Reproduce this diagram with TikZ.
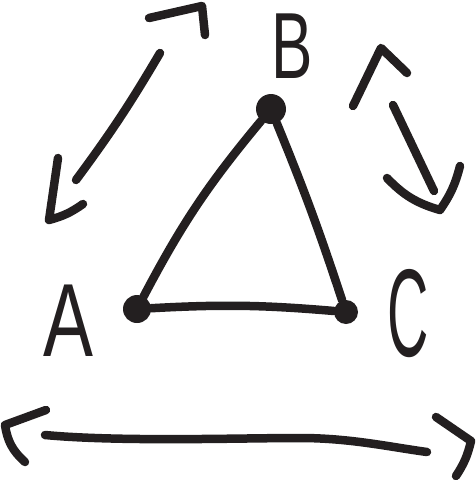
\documentclass[tikz,border=0pt]{standalone}
\usepackage{fontspec}
\setmainfont{Liberation Sans}
\definecolor{ink}{HTML}{231F20}
\tikzset{
  pen/.style={draw=ink, line width=8.5pt, line cap=round, line join=round},
  vert/.style={circle, fill=ink, inner sep=0pt},
  letter/.style={text=ink, font=\fontsize{104}{104}\selectfont, inner sep=0pt}
}
\begin{document}
\begin{tikzpicture}[x=1pt,y=-1pt]
\useasboundingbox (0,0) rectangle (476,480);
% vertices
\node[vert, minimum size=28pt] (A) at (137,309) {};
\node[vert, minimum size=30pt] (B) at (271,109) {};
\node[vert, minimum size=24pt] (C) at (346,312) {};
% triangle
\draw[pen] (A) to[bend left=6] (B);
\draw[pen] (B) to[bend left=2] (C);
\draw[pen] (A) to[bend left=4] (C);
% labels
\node[letter] (LA) at (68,321) {\scalebox{0.72}[1]{A}};
\node[letter, font=\fontsize{94}{94}\selectfont] (LB) at (292,46) {\scalebox{0.66}[1]{B}};
\node[letter] (LC) at (408,314) {\scalebox{0.55}[1.2]{C}};
% top-left double arrow
\coordinate (t1) at (160,53);
\coordinate (t2) at (76,180);
\coordinate (h1a) at (149,18);
\coordinate (h1b) at (202,6);
\coordinate (h1c) at (205,35);
\coordinate (h2a) at (58,158);
\coordinate (h2b) at (49,220);
\coordinate (h2c) at (83,204);
\draw[pen] (t1) to[bend left=3] (t2);
\draw[pen] (h1a) -- (h1b) -- (h1c);
\draw[pen] (h2a) -- (h2b) to[bend right=10] (h2c);
% right double arrow
\coordinate (r1) at (393,105);
\coordinate (r2) at (434,191);
\coordinate (k1a) at (353,106);
\coordinate (k1b) at (381,48);
\coordinate (k1c) at (407,73);
\coordinate (k2a) at (387,178);
\coordinate (k2b) at (440,210);
\coordinate (k2c) at (460,166);
\draw[pen] (r1) -- (r2);
\draw[pen] (k1a) -- (k1b) -- (k1c);
\draw[pen] (k2a) to[bend right=15] (k2b) to[bend right=10] (k2c);
% bottom double arrow
\coordinate (b1) at (45,435);
\coordinate (b2) at (427,452);
\coordinate (bm) at (300,438);
\coordinate (g1a) at (46,410);
\coordinate (g1b) at (5,425);
\coordinate (g1c) at (25,462);
\coordinate (g2a) at (436,417);
\coordinate (g2b) at (471,441);
\coordinate (g2c) at (456,476);
\draw[pen] (b1) .. controls (120,442) and (240,438) .. (bm) .. controls (350,438) and (390,447) .. (b2);
\draw[pen] (g1a) -- (g1b) to[bend right=20] (g1c);
\draw[pen] (g2a) -- (g2b) to[bend left=10] (g2c);
\end{tikzpicture}
\end{document}
